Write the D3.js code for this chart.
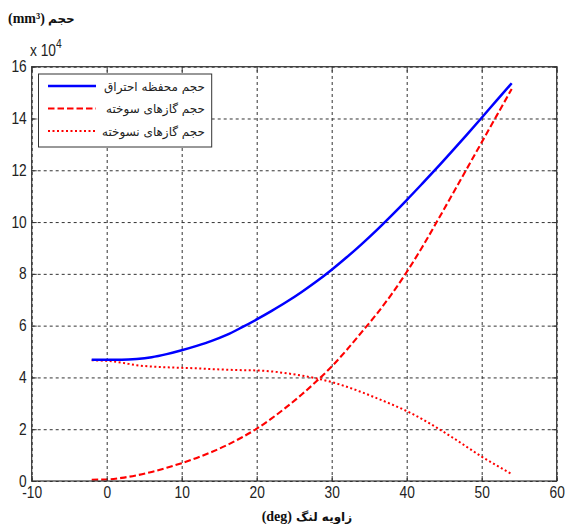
<!DOCTYPE html>
<html>
<head>
<meta charset="utf-8">
<script src="https://cdn.jsdelivr.net/npm/d3@7"></script>
<style>
  html, body { margin: 0; padding: 0; background: #fff; }
  svg { display: block; }
</style>
</head>
<body>
<svg id="chart" width="567" height="524"></svg>
<script>
// Crank angle (deg) at which the volumes are sampled
const crankAngle = [-2, 0, 2, 4, 6, 8, 10, 12, 14, 16, 18, 20, 22, 24, 26, 28,
                    30, 32, 34, 36, 38, 40, 42, 44, 46, 48, 50, 52, 54];

// Combustion chamber volume (x 10^4 mm^3)
const chamberVolume = [4.68, 4.68, 4.68, 4.71, 4.78, 4.90, 5.05, 5.22, 5.41, 5.64, 5.93, 6.24,
                       6.57, 6.92, 7.30, 7.71, 8.16, 8.64, 9.15, 9.69, 10.26, 10.85, 11.46,
                       12.08, 12.72, 13.37, 14.03, 14.70, 15.36];

// Burned gas volume (x 10^4 mm^3)
const burnedVolume = [0.05, 0.06, 0.12, 0.22, 0.35, 0.51, 0.69, 0.89, 1.12, 1.38, 1.68, 2.02,
                      2.42, 2.86, 3.34, 3.86, 4.42, 5.06, 5.75, 6.45, 7.22, 8.07, 9.00,
                      10.00, 11.02, 12.05, 13.08, 14.11, 15.14];

// Unburned gas volume (x 10^4 mm^3)
const unburnedVolume = [4.66, 4.64, 4.57, 4.47, 4.42, 4.39, 4.37, 4.35, 4.32, 4.30, 4.28, 4.27,
                        4.23, 4.16, 4.07, 3.96, 3.82, 3.64, 3.43, 3.20, 2.96, 2.70, 2.40,
                        2.06, 1.70, 1.32, 0.94, 0.60, 0.27];

const xTicks = [-10, 0, 10, 20, 30, 40, 50, 60];
const yTicks = [0, 2, 4, 6, 8, 10, 12, 14, 16];

const seriesNames = ["حجم محفظه احتراق", "حجم گازهای سوخته", "حجم گازهای نسوخته"];

const svg = d3.select("#chart");
const plotLeft = 31.7, plotRight = 556.7, plotTop = 66.7, plotBottom = 481;

const x = d3.scaleLinear().domain([-10, 60]).range([plotLeft, plotRight]);
const y = d3.scaleLinear().domain([0, 16]).range([plotBottom, plotTop]);

const axisColor = "#333";
const numFont = "'Liberation Sans', Arial, sans-serif";
const sx = 0.86; // narrow numerals
const plainNum = d => String(d);

// grid lines
const gridX = svg.append("g").attr("transform", `translate(0,${plotBottom})`)
  .call(d3.axisBottom(x).tickValues(xTicks).tickSize(-(plotBottom - plotTop)).tickFormat(""));
const gridY = svg.append("g").attr("transform", `translate(${plotLeft},0)`)
  .call(d3.axisLeft(y).tickValues(yTicks).tickSize(-(plotRight - plotLeft)).tickFormat(""));
[gridX, gridY].forEach(g => {
  g.select(".domain").remove();
  g.selectAll("line").attr("stroke", axisColor).attr("stroke-width", 1)
    .attr("stroke-dasharray", "3,3");
});

// data lines
const lineFor = vals => d3.line()
  .x((d, i) => x(crankAngle[i]))
  .y(d => y(d))
  .curve(d3.curveMonotoneX)(vals);

svg.append("path").attr("d", lineFor(unburnedVolume))
  .attr("fill", "none").attr("stroke", "#ff0000").attr("stroke-width", 2)
  .attr("stroke-dasharray", "2,2.5");
svg.append("path").attr("d", lineFor(burnedVolume))
  .attr("fill", "none").attr("stroke", "#ff0000").attr("stroke-width", 2.1)
  .attr("stroke-dasharray", "6.5,3");
svg.append("path").attr("d", lineFor(chamberVolume))
  .attr("fill", "none").attr("stroke", "#0000ff").attr("stroke-width", 2.5)
  .attr("stroke-linejoin", "round");

// axes box
svg.append("rect").attr("x", plotLeft).attr("y", plotTop)
  .attr("width", plotRight - plotLeft).attr("height", plotBottom - plotTop)
  .attr("fill", "none").attr("stroke", axisColor).attr("stroke-width", 1.2);

// tick marks on all four sides, labels on bottom and left
const tickLen = 5;
const xb = svg.append("g").attr("transform", `translate(0,${plotBottom})`)
  .call(d3.axisBottom(x).tickValues(xTicks).tickSize(-tickLen).tickPadding(6).tickFormat(plainNum));
const yl = svg.append("g").attr("transform", `translate(${plotLeft},0)`)
  .call(d3.axisLeft(y).tickValues(yTicks).tickSize(-tickLen).tickPadding(5).tickFormat(plainNum));
const xt = svg.append("g").attr("transform", `translate(0,${plotTop})`)
  .call(d3.axisTop(x).tickValues(xTicks).tickSize(-tickLen).tickFormat(""));
const yr = svg.append("g").attr("transform", `translate(${plotRight},0)`)
  .call(d3.axisRight(y).tickValues(yTicks).tickSize(-tickLen).tickFormat(""));
[xb, yl, xt, yr].forEach(g => {
  g.select(".domain").remove();
  g.selectAll("line").attr("stroke", axisColor);
});
xb.selectAll("text").attr("font-family", numFont).attr("font-size", 16)
  .attr("fill", "#222").attr("transform", `scale(${sx},1)`);
yl.selectAll("text").attr("font-family", numFont).attr("font-size", 16)
  .attr("fill", "#222").attr("x", -5 / sx).attr("transform", `scale(${sx},1)`);

// exponent label
const expo = svg.append("text").attr("x", 30).attr("y", 56)
  .attr("font-family", numFont).attr("font-size", 16).attr("fill", "#222")
  .attr("transform", `translate(${30 * (1 - sx)},0) scale(${sx},1)`);
expo.append("tspan").text("x 10");
expo.append("tspan").attr("dy", -8).attr("font-size", 12).text("4");

// y-axis title
svg.append("text").attr("x", 8).attr("y", 23)
  .attr("font-family", "'Liberation Serif', 'Times New Roman', serif")
  .attr("font-weight", "bold").attr("font-size", 14).attr("fill", "#111")
  .text("(mm³)");
svg.append("text").attr("x", 48).attr("y", 23)
  .attr("font-family", "'DejaVu Sans', sans-serif").attr("font-weight", "bold")
  .attr("font-size", 12).attr("fill", "#111")
  .text("حجم");

// x-axis title
svg.append("text").attr("x", 292).attr("y", 521).attr("text-anchor", "end")
  .attr("font-family", "'Liberation Serif', 'Times New Roman', serif")
  .attr("font-weight", "bold").attr("font-size", 14).attr("fill", "#111")
  .text("(deg)");
svg.append("text").attr("x", 296).attr("y", 521).attr("text-anchor", "start")
  .attr("font-family", "'DejaVu Sans', sans-serif").attr("font-weight", "bold")
  .attr("font-size", 12).attr("fill", "#111")
  .text("زاویه لنگ");

// legend
const legend = svg.append("g");
legend.append("rect").attr("x", 38.5).attr("y", 74).attr("width", 173.2).attr("height", 73)
  .attr("fill", "#fff").attr("stroke", axisColor).attr("stroke-width", 1);
const legendStyles = [
  { color: "#0000ff", width: 2.5, dash: null },
  { color: "#ff0000", width: 2.1, dash: "6.5,3" },
  { color: "#ff0000", width: 2, dash: "2,2.5" }
];
const legendY = [86, 108.5, 131];
seriesNames.forEach((name, i) => {
  legend.append("line").attr("x1", 48).attr("x2", 96)
    .attr("y1", legendY[i]).attr("y2", legendY[i])
    .attr("stroke", legendStyles[i].color).attr("stroke-width", legendStyles[i].width)
    .attr("stroke-dasharray", legendStyles[i].dash);
  legend.append("text").attr("x", 205).attr("y", legendY[i] + 4.5)
    .attr("text-anchor", "end")
    .attr("font-family", "'DejaVu Sans', sans-serif").attr("font-size", 12).attr("fill", "#222")
    .text(name);
});
</script>
</body>
</html>
